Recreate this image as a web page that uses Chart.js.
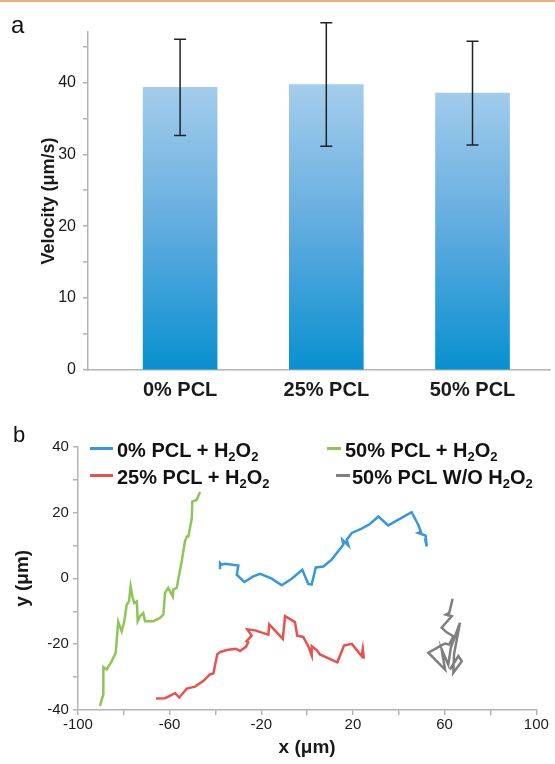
<!DOCTYPE html>
<html>
<head>
<meta charset="utf-8">
<script src="https://cdn.jsdelivr.net/npm/chart.js@4.4.1/dist/chart.umd.min.js"></script>
<style>
  body { margin: 0; background: #fff; font-family: "Liberation Sans", Arial, sans-serif; }
  #page { position: relative; width: 555px; height: 764px; overflow: hidden; background: #fff; }
  #topline { position: absolute; left: 0; top: 0; width: 555px; height: 2px; background: #e9b27a; }
  .panel { position: absolute; color: #111; line-height: 1; }
  #wrapA { position: absolute; left: 0; top: 0; width: 555px; height: 400px; }
  #wrapB { position: absolute; left: 0; top: 400px; width: 555px; height: 364px; }
  .swatch { position: absolute; width: 23px; height: 2.5px; }
  .legend { position: absolute; font-weight: bold; font-size: 20px; line-height: 24px; color: #111; white-space: nowrap; }
  .legend sub { font-size: 13px; line-height: 0; vertical-align: 0; position: relative; top: 4px; }
</style>
</head>
<body>
<div id="page">
  <div id="topline"></div>
  <div id="wrapA"><canvas id="velocityChart" width="555" height="400"></canvas></div>
  <div id="wrapB"><canvas id="trackChart" width="555" height="364"></canvas></div>
  <div class="panel" style="left:11px; top:13px; font-size:24px;">a</div>
  <div class="panel" style="left:13px; top:424px; font-size:22px;">b</div>

  <div class="swatch" style="left:90px; top:447px; background:#3598db;"></div>
  <div class="legend" style="left:117px; top:438px;">0% PCL + H<sub>2</sub>O<sub>2</sub></div>
  <div class="swatch" style="left:327px; top:447px; width:14px; background:#8dc656;"></div>
  <div class="legend" style="left:345px; top:438px;">50% PCL + H<sub>2</sub>O<sub>2</sub></div>
  <div class="swatch" style="left:90px; top:474px; background:#e8524c;"></div>
  <div class="legend" style="left:117px; top:465px;">25% PCL + H<sub>2</sub>O<sub>2</sub></div>
  <div class="swatch" style="left:336px; top:474px; width:14px; background:#7f7f7f;"></div>
  <div class="legend" style="left:352px; top:465px;">50% PCL W/O H<sub>2</sub>O<sub>2</sub></div>
</div>

<script>
// panel a: mean velocity with standard deviation
const categories = ['0% PCL', '25% PCL', '50% PCL'];
const velocity = [39.3, 39.7, 38.5];
const velocitySd = [6.7, 8.6, 7.2];
const velocityTicks = [0, 10, 20, 30, 40];

// panel b: trajectories (µm)
const pcl0X = [-38.0, -38.0, -37.3, -35.8, -30.0, -30.7, -27.4, -23.5, -20.5, -15.4, -11.1, -6.7, -2.1, 0.5, 2.0, 3.8, 7.1, 10.7, 15.8, 15.4, 18.0, 17.3, 19.5, 23.8, 27.4, 31.1, 35.4, 45.6, 48.5, 49.7, 48.5, 51.7, 52.2, 51.4];
const pcl0Y = [2.8, 4.7, 4.2, 4.4, 3.9, 1.1, -1.1, 0.6, 1.4, -0.1, -2.1, -0.1, 2.6, -1.7, -1.9, 3.3, 3.6, 5.7, 10.2, 11.7, 10.0, 11.7, 13.8, 15.1, 16.5, 18.8, 16.1, 20.1, 16.3, 14.1, 13.8, 13.0, 9.7, 12.2];

const pcl25X = [-65.9, -62.0, -57.6, -55.8, -52.5, -48.9, -45.3, -42.4, -40.9, -39.2, -38.0, -35.1, -31.0, -29.3, -26.7, -25.7, -26.4, -24.2, -26.1, -22.7, -16.9, -16.5, -10.6, -9.6, -5.3, -4.3, -1.7, 0.5, 2.0, 2.0, 4.2, 5.6, 13.2, 16.1, 19.5, 23.8, 24.3, 24.8];
const pcl25Y = [-36.5, -36.4, -34.9, -36.2, -33.5, -32.9, -31.2, -29.2, -28.9, -23.1, -22.4, -21.8, -21.4, -22.1, -20.8, -19.4, -19.1, -17.4, -15.5, -15.8, -17.1, -14.0, -18.4, -11.5, -13.3, -17.4, -17.8, -20.6, -23.4, -20.6, -21.8, -23.1, -25.5, -20.4, -19.9, -23.6, -21.4, -24.4];

const pcl50X = [-90.4, -88.9, -88.9, -87.4, -85.3, -83.5, -82.8, -82.4, -80.9, -79.8, -78.7, -77.7, -77.0, -76.1, -75.4, -74.3, -73.9, -72.9, -71.5, -70.7, -67.1, -64.2, -62.7, -62.0, -60.6, -58.6, -58.4, -56.9, -54.7, -53.3, -52.5, -51.8, -50.3, -50.1, -48.2, -46.7];
const pcl50Y = [-38.8, -35.2, -27.0, -27.7, -25.2, -22.6, -16.5, -13.2, -16.1, -13.2, -8.0, -7.0, -2.4, -5.9, -7.5, -7.0, -13.0, -11.5, -10.5, -13.0, -13.0, -12.0, -11.0, -4.4, -2.9, -5.5, -3.4, -2.9, 5.2, 11.2, 12.7, 12.7, 18.3, 23.3, 23.8, 26.2];

const pcl50NoX = [63.5, 62.0, 60.6, 63.1, 58.7, 60.9, 63.8, 62.0, 60.2, 58.0, 52.9, 60.2, 58.7, 61.6, 62.7, 66.7, 64.1, 63.8, 67.5, 66.0, 62.3];
const pcl50NoY = [-6.2, -10.5, -11.0, -11.5, -15.0, -16.4, -17.6, -20.1, -19.8, -20.6, -22.6, -27.7, -21.6, -26.2, -21.1, -13.5, -23.1, -28.7, -25.2, -23.6, -27.7];

const xTickLabels = [-100, -60, -20, 20, 60, 100];
const yTickLabels = [-40, -20, 0, 20, 40];

const family = '"Liberation Sans", Arial, sans-serif';
const axisGray = '#b3b3b3';
const textColor = '#1a1a1a';

Chart.defaults.font.family = family;

function barGradient(context) {
  const chart = context.chart;
  const area = chart.chartArea;
  if (!area) return '#5eaade';
  const yScale = chart.scales.y;
  const g = chart.ctx.createLinearGradient(0, yScale.getPixelForValue(40), 0, yScale.getPixelForValue(0));
  g.addColorStop(0, '#a6ceec');
  g.addColorStop(0.5, '#62acdf');
  g.addColorStop(1, '#0890d0');
  return g;
}

// draws mean +/- sd whiskers on top of the bars
const errorBars = {
  id: 'errorBars',
  afterDatasetsDraw(chart) {
    const { ctx, scales: { x, y } } = chart;
    ctx.save();
    ctx.strokeStyle = '#222';
    ctx.lineWidth = 1.5;
    velocity.forEach((v, i) => {
      const px = x.getPixelForValue(i);
      const top = y.getPixelForValue(v + velocitySd[i]);
      const bottom = y.getPixelForValue(v - velocitySd[i]);
      ctx.beginPath();
      ctx.moveTo(px, top);
      ctx.lineTo(px, bottom);
      ctx.moveTo(px - 6, top);
      ctx.lineTo(px + 6, top);
      ctx.moveTo(px - 6, bottom);
      ctx.lineTo(px + 6, bottom);
      ctx.stroke();
    });
    ctx.restore();
  }
};

new Chart(document.getElementById('velocityChart'), {
  type: 'bar',
  data: {
    datasets: [{
      data: categories.map((c, i) => ({ x: i, y: velocity[i] })),
      backgroundColor: barGradient,
      barThickness: 74
    }]
  },
  options: {
    responsive: false,
    animation: false,
    layout: { padding: { top: 32, right: 5, left: 0, bottom: 0 } },
    plugins: { legend: { display: false }, tooltip: { enabled: false } },
    scales: {
      x: {
        type: 'linear',
        offset: false,
        min: -0.63,
        max: 2.53,
        afterBuildTicks: (s) => { s.ticks = categories.map((c, i) => ({ value: i })); },
        afterFit: (s) => { s.height = 30; },
        grid: { display: false },
        border: { color: axisGray, width: 1.5 },
        ticks: {
          callback: (v) => categories[v],
          font: { size: 20, weight: 'bold' },
          color: textColor,
          padding: 0,
          maxRotation: 0,
          autoSkip: false
        }
      },
      y: {
        min: 0,
        max: 47,
        afterFit: (s) => { s.width = 88; },
        grid: { drawOnChartArea: false, tickLength: 5, color: axisGray, lineWidth: 1.5 },
        border: { color: axisGray, width: 1.5 },
        ticks: {
          stepSize: 5,
          includeBounds: false,
          callback: (v) => velocityTicks.includes(v) ? v : '',
          font: { size: 16 },
          color: textColor,
          padding: 7
        },
        title: {
          display: true,
          text: 'Velocity (μm/s)',
          font: { size: 18, weight: 'bold' },
          color: textColor,
          padding: { top: 38 }
        }
      }
    }
  },
  plugins: [errorBars]
});

const tracks = [
  { label: '0% PCL + H2O2', x: pcl0X, y: pcl0Y, color: '#3598db' },
  { label: '25% PCL + H2O2', x: pcl25X, y: pcl25Y, color: '#e8524c' },
  { label: '50% PCL + H2O2', x: pcl50X, y: pcl50Y, color: '#8dc656' },
  { label: '50% PCL W/O H2O2', x: pcl50NoX, y: pcl50NoY, color: '#7f7f7f' }
];

new Chart(document.getElementById('trackChart'), {
  type: 'scatter',
  data: {
    datasets: tracks.map(t => ({
      label: t.label,
      data: t.x.map((v, i) => ({ x: v, y: t.y[i] })),
      borderColor: t.color,
      backgroundColor: t.color,
      showLine: true,
      pointRadius: 0,
      borderWidth: 2.5,
      tension: 0
    }))
  },
  options: {
    responsive: false,
    animation: false,
    layout: { padding: { top: 46.7, right: 18.7, left: 0, bottom: 0 } },
    plugins: { legend: { display: false }, tooltip: { enabled: false } },
    scales: {
      x: {
        min: -100,
        max: 100,
        afterFit: (s) => { s.height = 54; },
        grid: { drawOnChartArea: false, tickLength: 5, color: axisGray, lineWidth: 1.5 },
        border: { color: axisGray, width: 1.5 },
        ticks: {
          stepSize: 20,
          callback: (v) => xTickLabels.includes(v) ? v : '',
          font: { size: 15 },
          color: textColor,
          padding: 1,
          maxRotation: 0,
          autoSkip: false
        },
        title: {
          display: true,
          text: 'x (μm)',
          font: { size: 19, weight: 'bold' },
          color: textColor,
          padding: { top: 0, bottom: 5 }
        }
      },
      y: {
        min: -40,
        max: 40,
        afterFit: (s) => { s.width = 77.9; },
        grid: { drawOnChartArea: false, tickLength: 5, color: axisGray, lineWidth: 1.5 },
        border: { color: axisGray, width: 1.5 },
        ticks: {
          stepSize: 10,
          callback: (v) => yTickLabels.includes(v) ? v : '',
          font: { size: 15 },
          color: textColor,
          padding: 4,
          autoSkip: false
        },
        title: {
          display: true,
          text: 'y (μm)',
          font: { size: 19, weight: 'bold' },
          color: textColor,
          padding: { top: 11 }
        }
      }
    }
  }
});
</script>
</body>
</html>
